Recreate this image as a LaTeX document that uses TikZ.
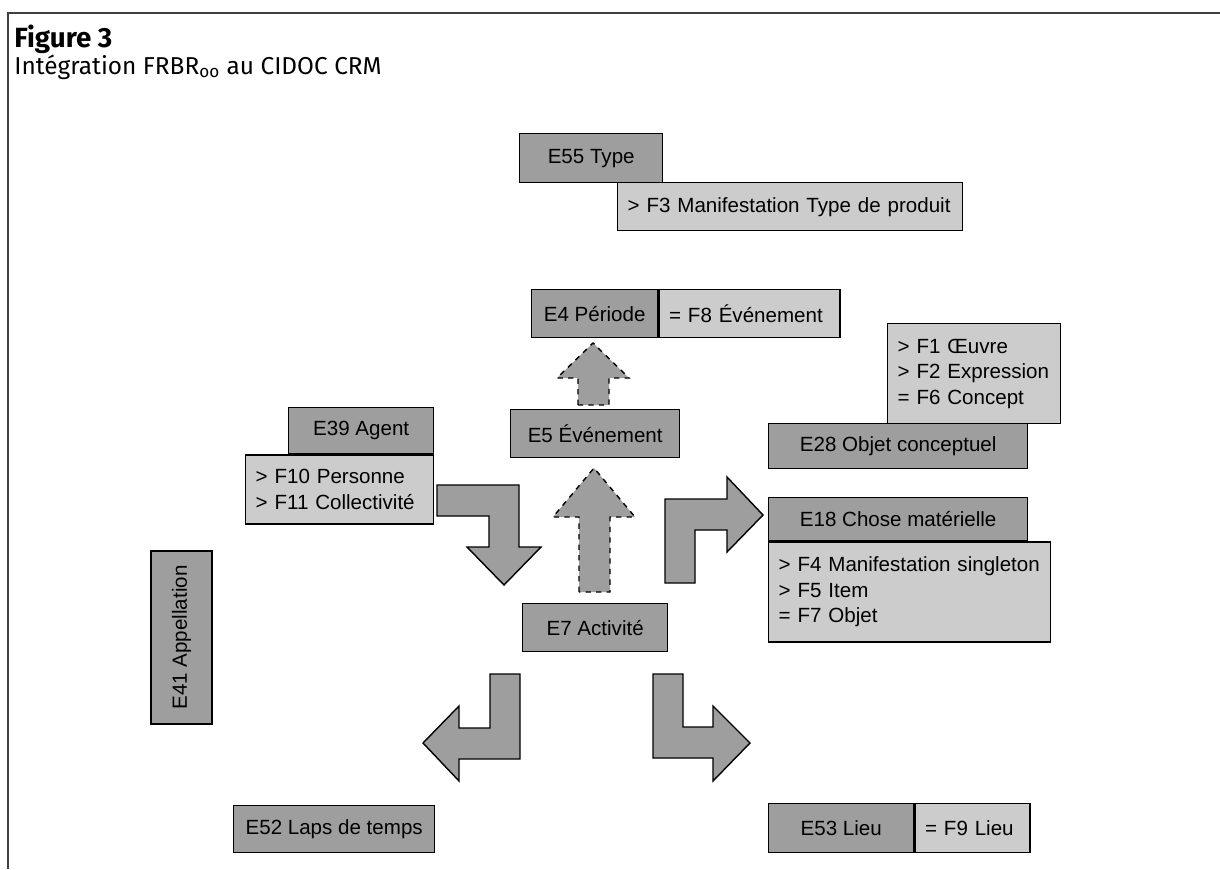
\documentclass[tikz,border=0pt]{standalone}
\usepackage{fontspec}
\setmainfont{Liberation Sans}
\newfontfamily\titlefont{Fira Sans}
\definecolor{boxdark}{gray}{0.62}
\definecolor{boxlight}{gray}{0.80}
\tikzset{
  box/.style={draw, line width=0.8pt, inner sep=0pt, anchor=north west,
    font=\fontsize{11.7}{14.5}\selectfont},
  darkbox/.style={box, fill=boxdark, align=center},
  lightbox/.style={box, fill=boxlight, align=left, inner xsep=0.2cm},
  blockarrow/.style={draw, line width=0.8pt, fill=boxdark, line join=miter},
  dasharrow/.style={blockarrow, dashed}
}

\begin{document}
\begin{tikzpicture}[x=0.02cm, y=-0.02cm]
            \useasboundingbox (0,0) rectangle (1220,869);
            \draw[line width=0.8pt, black!75] (1220,13) -- (8,13) -- (8,869);
            \node[anchor=base west, inner sep=0pt, font=\titlefont\bfseries\fontsize{15.8}{17}\selectfont] (fig) at (14,47) {Figure 3};
            \node[anchor=base west, inner sep=0pt, font=\titlefont\fontsize{13.9}{16}\selectfont] (caption) at (14,74) {Intégration FRBR\textsubscript{oo} au CIDOC CRM};

            % boxes
            \node[darkbox, minimum width=2.86cm, minimum height=0.98cm] (e55) at (519,133) {E55 Type};
            \node[lightbox, text width=6.5cm, minimum height=0.96cm] (f3) at (617,182) {> F3 Manifestation Type de produit};
            \node[darkbox, minimum width=2.52cm, minimum height=0.96cm] (e4) at (531,289) {E4 Période};
            \node[lightbox, text width=3.22cm, minimum height=0.96cm] (f8) at (e4.north east) {= F8 Événement};
            \node[darkbox, minimum width=3.38cm, minimum height=0.96cm] (e5) at (510,409) {E5 Événement};
            \node[darkbox, minimum width=2.9cm, minimum height=0.96cm] (e7) at (522,603) {E7 Activité};
            \node[darkbox, minimum width=2.9cm, minimum height=0.92cm] (e39) at (288,407) {E39 Agent};
            \node[lightbox, anchor=north east, text width=3.36cm, minimum height=1.38cm] (f10) at (e39.south east) {> F10 Personne\\> F11 Collectivité};
            \node[lightbox, text width=3.06cm, minimum height=2cm] (f1) at (887,323) {> F1 Œuvre\\> F2 Expression\\= F6 Concept};
            \node[darkbox, minimum width=5.18cm, minimum height=0.9cm] (e28) at (768,423) {E28 Objet conceptuel};
            \node[darkbox, minimum width=5.18cm, minimum height=0.86cm] (e18) at (768,497) {E18 Chose matérielle};
            \node[lightbox, text width=5.24cm, minimum height=2cm] (f4) at (e18.south west) {> F4 Manifestation singleton\\> F5 Item\\= F7 Objet};
            \node[darkbox, anchor=center, rotate=90, minimum width=3.46cm, minimum height=1.22cm] (e41) at (181.5,637.5) {E41 Appellation};
            \node[darkbox, minimum width=4.02cm, minimum height=0.94cm] (e52) at (233,805) {E52 Laps de temps};
            \node[darkbox, minimum width=2.9cm, minimum height=0.98cm] (e53) at (768,803) {E53 Lieu};
            \node[lightbox, text width=1.9cm, minimum height=0.98cm] (f9) at (e53.north east) {= F9 Lieu};

            % arrows
            \draw[dasharrow] (578,405) -- (578,378) -- (557,378) -- (593,343) -- (629,378) -- (609,378) -- (609,405) -- cycle;
            \draw[dasharrow] (579,592) -- (579,517) -- (553,517) -- (594,468) -- (635,517) -- (610,517) -- (610,592) -- cycle;
            \draw[blockarrow] (437,485) -- (519,485) -- (519,547) -- (541,547) -- (504,585) -- (467,547) -- (489,547) -- (489,516) -- (437,516) -- cycle;
            \draw[blockarrow] (665,583) -- (665,499) -- (727,499) -- (727,477) -- (763,515) -- (727,552) -- (727,530) -- (695,530) -- (695,583) -- cycle;
            \draw[blockarrow] (490,674) -- (520,674) -- (520,759) -- (459,759) -- (459,781) -- (423,743) -- (459,706) -- (459,728) -- (490,728) -- cycle;
            \draw[blockarrow] (653,674) -- (683,674) -- (683,727) -- (713,727) -- (713,706) -- (750,743) -- (713,781) -- (713,758) -- (653,758) -- cycle;
        \end{tikzpicture}
\end{document}
